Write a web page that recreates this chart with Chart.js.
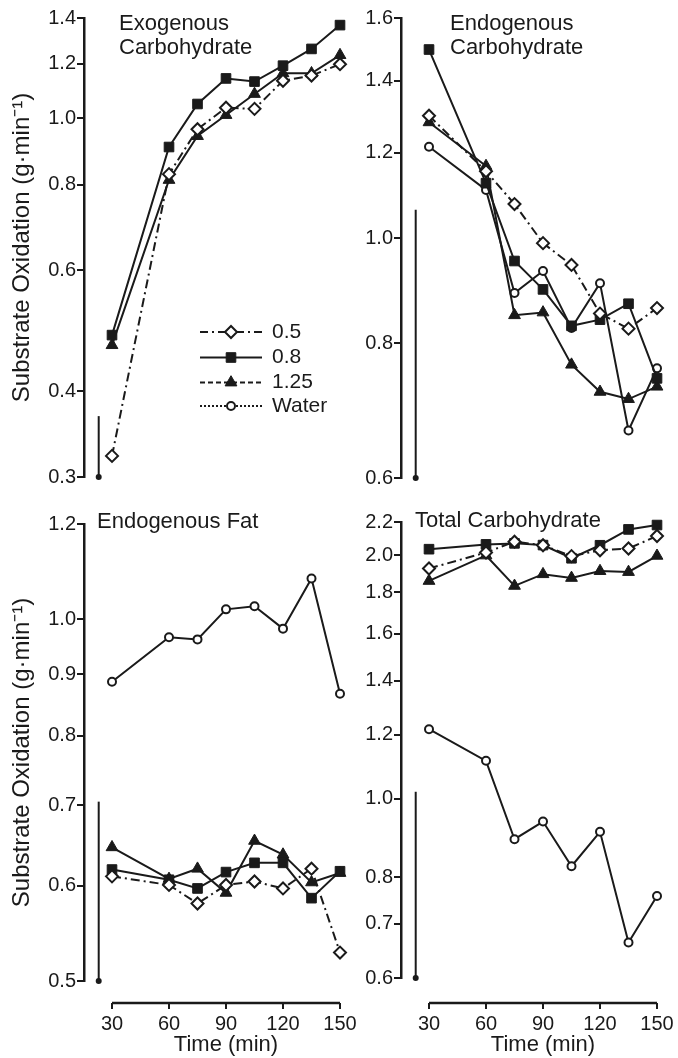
<!DOCTYPE html>
<html>
<head>
<meta charset="utf-8">
<script src="https://cdn.jsdelivr.net/npm/chart.js@4.4.1/dist/chart.umd.min.js"></script>
<style>
html,body{margin:0;padding:0;background:#fff;}
body{width:678px;height:1058px;position:relative;overflow:hidden;}
canvas{position:absolute;}
</style>
</head>
<body>
<canvas id="cExo" width="361" height="500" style="left:0;top:0"></canvas>
<canvas id="cEndo" width="361" height="500" style="left:317px;top:0"></canvas>
<canvas id="cFat" width="361" height="558" style="left:0;top:500px"></canvas>
<canvas id="cTot" width="361" height="558" style="left:317px;top:500px"></canvas>
<script>
// ---------------- DATA ----------------
const times = [30, 60, 75, 90, 105, 120, 135, 150];
const xTickValues = [30, 60, 90, 120, 150];
const seriesNames = ['0.5', '0.8', '1.25', 'Water'];

// Exogenous carbohydrate (g/min)
const exo05  = [0.322, 0.829, 0.964, 1.036, 1.032, 1.134, 1.154, 1.199];
const exo08  = [0.483, 0.908, 1.049, 1.143, 1.131, 1.193, 1.262, 1.367];
const exo125 = [0.467, 0.813, 0.942, 1.011, 1.085, 1.163, 1.163, 1.236];

// Endogenous carbohydrate
const endo05    = [1.299, 1.154, 1.076, 0.990, 0.945, 0.852, 0.825, 0.862];
const endo08    = [1.496, 1.125, 0.953, 0.897, 0.830, 0.841, 0.870, 0.742];
const endo125   = [1.281, 1.167, 0.849, 0.854, 0.764, 0.721, 0.710, 0.729];
const endoWater = [1.216, 1.109, 0.890, 0.933, 0.826, 0.909, 0.664, 0.758];

// Endogenous fat
const fat05    = [0.611, 0.601, 0.580, 0.601, 0.605, 0.597, 0.620, 0.528];
const fat08    = [0.619, 0.607, 0.597, 0.616, 0.627, 0.627, 0.586, 0.617];
const fat125   = [0.646, 0.608, 0.620, 0.592, 0.654, 0.637, 0.604, 0.615];
const fatWater = [0.887, 0.966, 0.962, 1.019, 1.025, 0.982, 1.081, 0.867];

// Total carbohydrate
const tot05    = [1.927, 2.017, 2.080, 2.059, 1.996, 2.030, 2.040, 2.114];
const tot08    = [2.036, 2.064, 2.070, 2.060, 1.984, 2.059, 2.154, 2.181];
const tot125   = [1.860, 2.000, 1.834, 1.896, 1.876, 1.913, 1.908, 1.998];
const totWater = [1.219, 1.114, 0.891, 0.937, 0.825, 0.910, 0.664, 0.758];

// y tick labels
const yTicksExo  = [0.3, 0.4, 0.6, 0.8, 1.0, 1.2, 1.4];
const yTicksEndo = [0.6, 0.8, 1.0, 1.2, 1.4, 1.6];
const yTicksFat  = [0.5, 0.6, 0.7, 0.8, 0.9, 1.0, 1.2];
const yTicksTot  = [0.6, 0.7, 0.8, 1.0, 1.2, 1.4, 1.6, 1.8, 2.0, 2.2];

// vertical scale bars (time position, bottom value, top value)
const scaleBarTime = 23;
const scaleBarExo  = [0.3, 0.368];
const scaleBarEndo = [0.6, 1.063];
const scaleBarFat  = [0.5, 0.705];
const scaleBarTot  = [0.6, 1.02];

const titleExo  = ['Exogenous', 'Carbohydrate'];
const titleEndo = ['Endogenous', 'Carbohydrate'];
const titleFat  = ['Endogenous Fat'];
const titleTot  = ['Total Carbohydrate'];
const yAxisTitle = 'Substrate Oxidation (g\u00B7min\u207B\u00B9)';
const xAxisTitle = 'Time (min)';

// ---------------- STYLE ----------------
const FONT = '"Liberation Sans", Arial, Helvetica, sans-serif';
const INK = '#1a1a1a';
Chart.defaults.font.family = FONT;
Chart.defaults.color = INK;

const MARK = [
  {pointStyle: 'rectRot',  radius: 6,   fill: '#fff', bw: 2, panelDash: [9, 4, 2, 4], legendDash: [8, 4, 2, 4]},
  {pointStyle: 'rect',     radius: 6.8, fill: INK,    bw: 1, panelDash: [],           legendDash: []},
  {pointStyle: 'triangle', radius: 6.8, fill: INK,    bw: 1, panelDash: [],           legendDash: [5, 3]},
  {pointStyle: 'circle',   radius: 4,   fill: '#fff', bw: 2, panelDash: [],           legendDash: [2, 2]}
];

const X0 = 15.26, X1 = 155.26;

function series(values, k) {
  const m = MARK[k];
  return {
    label: seriesNames[k],
    data: times.map((t, i) => ({x: t, y: values[i]})),
    borderColor: INK, borderWidth: 2, borderDash: m.panelDash,
    pointStyle: m.pointStyle, pointRadius: m.radius,
    pointBackgroundColor: m.fill, pointBorderColor: INK, pointBorderWidth: m.bw,
    clip: false, tension: 0
  };
}
function scaleBar(bar) {
  return {
    label: 'bar',
    data: [{x: scaleBarTime, y: bar[0]}, {x: scaleBarTime, y: bar[1]}],
    borderColor: INK, borderWidth: 2,
    pointRadius: [3, 0], pointBackgroundColor: INK, pointBorderColor: INK, pointBorderWidth: 0,
    clip: false
  };
}

const decor = {
  id: 'decor',
  afterDraw(chart, args, o) {
    const {ctx, chartArea: a, scales: {x}} = chart;
    ctx.save();
    ctx.fillStyle = INK;
    ctx.font = '22px ' + FONT;
    ctx.textAlign = 'left';
    ctx.textBaseline = 'alphabetic';
    o.title.forEach((line, i) => ctx.fillText(line, a.left + o.titleDx, o.titleY + i * 24));
    if (o.xAxis) {
      const yy = a.bottom + o.axisGap;
      const p0 = x.getPixelForValue(xTickValues[0]);
      const p1 = x.getPixelForValue(xTickValues[xTickValues.length - 1]);
      ctx.strokeStyle = INK; ctx.lineWidth = 2.5;
      ctx.beginPath(); ctx.moveTo(p0, yy); ctx.lineTo(p1, yy); ctx.stroke();
      ctx.lineWidth = 2;
      xTickValues.forEach(t => {
        const px = Math.round(x.getPixelForValue(t));
        ctx.beginPath(); ctx.moveTo(px, yy); ctx.lineTo(px, yy + 6); ctx.stroke();
      });
      ctx.font = '22px ' + FONT;
      ctx.textAlign = 'center'; ctx.textBaseline = 'middle';
      ctx.fillText(xAxisTitle, (p0 + p1) / 2, o.xTitleY);
    }
    if (o.legend) {
      const L = o.legend;
      seriesNames.forEach((name, k) => {
        const m = MARK[k];
        const yy = L.ys[k];
        ctx.strokeStyle = INK; ctx.lineWidth = 2;
        ctx.setLineDash(m.legendDash);
        ctx.beginPath(); ctx.moveTo(L.x0, yy); ctx.lineTo(L.x1, yy); ctx.stroke();
        ctx.setLineDash([]);
        ctx.fillStyle = m.fill; ctx.strokeStyle = INK; ctx.lineWidth = m.bw;
        Chart.helpers.drawPoint(ctx, {pointStyle: m.pointStyle, radius: m.radius, rotation: 0, borderWidth: m.bw}, (L.x0 + L.x1) / 2, yy);
        ctx.fillStyle = INK;
        ctx.font = '21px ' + FONT;
        ctx.textAlign = 'left'; ctx.textBaseline = 'middle';
        ctx.fillText(name, L.tx, yy);
      });
    }
    ctx.restore();
  }
};

function makeChart(id, p) {
  const ticksFont = {family: FONT, size: 20};
  return new Chart(document.getElementById(id), {
    type: 'line',
    data: {datasets: p.datasets},
    plugins: [decor],
    options: {
      responsive: false, animation: false, devicePixelRatio: 1,
      layout: {padding: p.padding},
      plugins: {legend: {display: false}, tooltip: {enabled: false}, decor: p.decor},
      scales: {
        x: {
          type: 'linear', min: X0, max: X1, display: p.showX,
          afterBuildTicks: s => { s.ticks = xTickValues.map(v => ({value: v})); },
          afterFit: s => { s.height = p.showX ? 60 : 0; },
          ticks: {font: ticksFont, color: INK, padding: 0, autoSkip: false, maxRotation: 0, callback: v => String(v)},
          grid: {display: false, drawTicks: true, tickLength: p.xTickGap || 0, color: 'rgba(0,0,0,0)'},
          border: {display: false}
        },
        y: {
          type: 'logarithmic', min: p.yTicks[0], max: p.yTicks[p.yTicks.length - 1],
          afterBuildTicks: s => { s.ticks = p.yTicks.map(v => ({value: v})); },
          afterFit: s => { s.width = 84; },
          ticks: {font: ticksFont, color: INK, padding: 1, autoSkip: false, callback: v => Number(v).toFixed(1)},
          grid: {drawOnChartArea: false, drawTicks: true, tickLength: 7, color: INK, lineWidth: 2},
          border: {display: true, color: INK, width: 2.5},
          title: {display: p.showYTitle, text: yAxisTitle, color: INK, font: {family: FONT, size: 24}, padding: {top: 8, bottom: 0}}
        }
      }
    }
  });
}

makeChart('cExo', {
  datasets: [series(exo05, 0), series(exo08, 1), series(exo125, 2), scaleBar(scaleBarExo)],
  yTicks: yTicksExo, showX: false, showYTitle: true,
  padding: {left: 0, top: 18, right: 11, bottom: 23},
  decor: {title: titleExo, titleDx: 35, titleY: 30,
          legend: {x0: 200, x1: 262, tx: 272, ys: [332, 357.5, 382.5, 406]}}
});
makeChart('cEndo', {
  datasets: [series(endo05, 0), series(endo08, 1), series(endo125, 2), series(endoWater, 3), scaleBar(scaleBarEndo)],
  yTicks: yTicksEndo, showX: false, showYTitle: false,
  padding: {left: 0, top: 18, right: 11, bottom: 22},
  decor: {title: titleEndo, titleDx: 49, titleY: 30}
});
makeChart('cFat', {
  datasets: [series(fat05, 0), series(fat08, 1), series(fat125, 2), series(fatWater, 3), scaleBar(scaleBarFat)],
  yTicks: yTicksFat, showX: true, showYTitle: true, xTickGap: 31,
  padding: {left: 0, top: 24, right: 11, bottom: 17},
  decor: {title: titleFat, titleDx: 13, titleY: 28, xAxis: true, axisGap: 22, xTitleY: 545}
});
makeChart('cTot', {
  datasets: [series(tot05, 0), series(tot08, 1), series(tot125, 2), series(totWater, 3), scaleBar(scaleBarTot)],
  yTicks: yTicksTot, showX: true, showYTitle: false, xTickGap: 34,
  padding: {left: 0, top: 22, right: 11, bottom: 20},
  decor: {title: titleTot, titleDx: 14, titleY: 27, xAxis: true, axisGap: 25, xTitleY: 545}
});
</script>
</body>
</html>
